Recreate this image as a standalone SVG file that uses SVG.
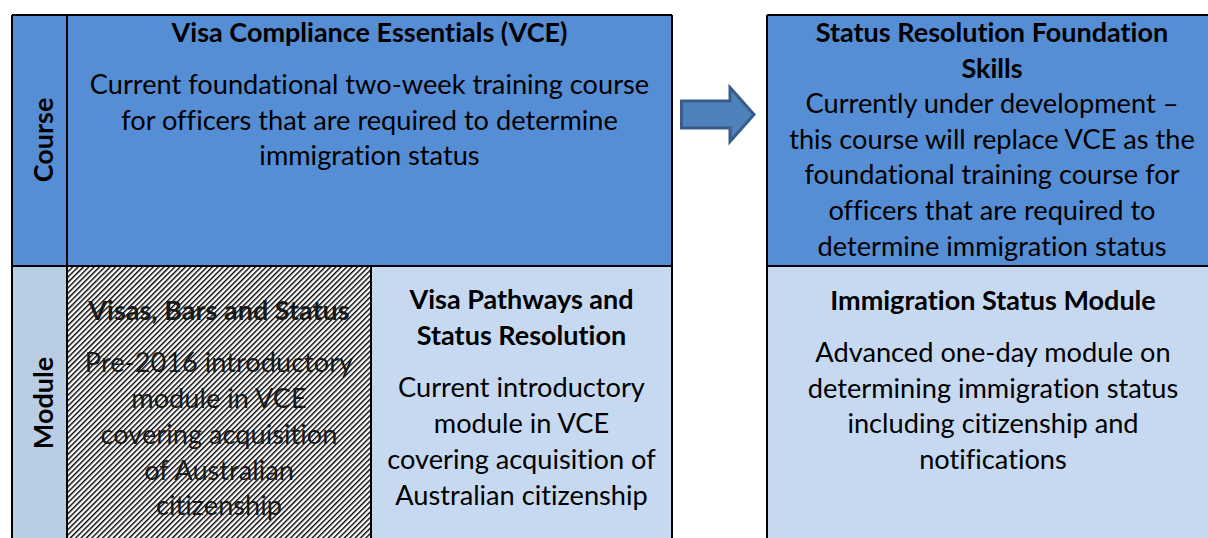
<svg xmlns="http://www.w3.org/2000/svg" width="1208" height="538" viewBox="0 0 1208 538">
  <defs>
    <!-- diagonal "/" hatch for the retired module cell -->
    <pattern id="hatch" patternUnits="userSpaceOnUse" width="3.8" height="3.8" patternTransform="rotate(45)">
      <rect x="0" y="0" width="3.8" height="3.8" fill="#ffffff"/>
      <rect x="0" y="0" width="1.4" height="3.8" fill="#000000"/>
    </pattern>
    <style>
      .course { fill: #558ED5; }
      .module { fill: #C6D9F1; }
      .label-mod { fill: #B9CDE5; }
      .grid { stroke: #000000; stroke-width: 2; fill: none; }
      text { font-family: Lato, "Open Sans", "Liberation Sans", sans-serif; fill: #000000; text-anchor: middle; font-variant-ligatures: none; }
      .title { font-size: 27px; font-weight: bold; }
      .body { font-size: 27.2px; }
      .rowlabel { font-size: 27px; font-weight: bold; }
      .struck { fill: #1a1a1a; }
    </style>
  </defs>

  <rect width="1208" height="538" fill="#ffffff"/>

  <!-- left table: current training -->
  <g id="row-label-course">
    <rect class="course" x="12" y="15" width="55" height="251"/>
    <text class="rowlabel" transform="translate(53,140) rotate(-90)">Course</text>
  </g>
  <g id="row-label-module">
    <rect class="label-mod" x="12" y="266" width="55" height="272"/>
    <text class="rowlabel" transform="translate(53,403) rotate(-90)">Module</text>
  </g>

  <g id="vce">
    <rect class="course" x="67" y="15" width="605" height="251"/>
    <text class="title" x="369.5" y="42">Visa Compliance Essentials (VCE)</text>
    <text class="body" x="369.5" y="94">Current foundational two-week training course</text>
    <text class="body" x="369.5" y="129.5">for officers that are required to determine</text>
    <text class="body" x="369.5" y="165">immigration status</text>
  </g>

  <g id="visas-bars-status">
    <rect x="67" y="266" width="304" height="272" fill="url(#hatch)"/>
    <text class="title struck" x="219" y="320">Visas, Bars and Status</text>
    <text class="body struck" x="219" y="372">Pre-2016 introductory</text>
    <text class="body struck" x="219" y="408">module in VCE</text>
    <text class="body struck" x="219" y="444">covering acquisition</text>
    <text class="body struck" x="219" y="480">of Australian</text>
    <text class="body struck" x="219" y="515">citizenship</text>
  </g>

  <g id="visa-pathways">
    <rect class="module" x="371" y="266" width="301" height="272"/>
    <text class="title" x="521.5" y="309">Visa Pathways and</text>
    <text class="title" x="521.5" y="345">Status Resolution</text>
    <text class="body" x="521.5" y="397">Current introductory</text>
    <text class="body" x="521.5" y="433">module in VCE</text>
    <text class="body" x="521.5" y="468.5">covering acquisition of</text>
    <text class="body" x="521.5" y="504.5">Australian citizenship</text>
  </g>

  <!-- right table: replacement training -->
  <g id="srfs">
    <rect class="course" x="767" y="15" width="460" height="251"/>
    <text class="title" x="992" y="42">Status Resolution Foundation</text>
    <text class="title" x="992" y="77.5">Skills</text>
    <text class="body" x="992" y="113">Currently under development –</text>
    <text class="body" x="992" y="148.5">this course will replace VCE as the</text>
    <text class="body" x="992" y="184">foundational training course for</text>
    <text class="body" x="992" y="220">officers that are required to</text>
    <text class="body" x="992" y="255.5">determine immigration status</text>
  </g>

  <g id="immigration-status-module">
    <rect class="module" x="767" y="266" width="460" height="272"/>
    <text class="title" x="993" y="310">Immigration Status Module</text>
    <text class="body" x="993" y="362">Advanced one-day module on</text>
    <text class="body" x="993" y="397.5">determining immigration status</text>
    <text class="body" x="993" y="433">including citizenship and</text>
    <text class="body" x="993" y="469">notifications</text>
  </g>

  <!-- table rules -->
  <g id="grid" class="grid">
    <path d="M12 15 H672 M12 266 H672 M12 15 V540 M67 15 V540 M371 266 V540 M672 15 V540"/>
    <path d="M767 15 H1210 M767 266 H1210 M767 15 V540"/>
  </g>

  <!-- connectors -->
  <g id="connectors">
    <path d="M681.5 101 H730 V87.5 L754 114.5 L730 141.5 V128 H681.5 Z" fill="#4F81BD" stroke="#385D8A" stroke-width="3" stroke-linejoin="miter"/>
  </g>
</svg>
